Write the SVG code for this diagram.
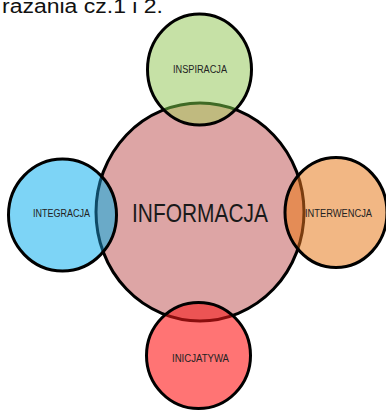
<svg xmlns="http://www.w3.org/2000/svg" width="386" height="412" viewBox="0 0 386 412">
<style>
.ol{fill:none;stroke:#000;stroke-width:3}
.lbl{font-family:"Liberation Sans",Arial,sans-serif;font-size:10px;fill:#222;text-anchor:middle}
.big{font-family:"Liberation Sans",Arial,sans-serif;font-size:26px;fill:#1a1a1a;text-anchor:middle}
</style>
<defs>
<clipPath id="cBig"><ellipse cx="200" cy="212" rx="104" ry="109"/></clipPath>
<clipPath id="cG"><ellipse cx="199.5" cy="69.5" rx="52" ry="55.5"/></clipPath>
<clipPath id="cB"><ellipse cx="62.5" cy="215" rx="54" ry="56"/></clipPath>
<clipPath id="cO"><ellipse cx="336" cy="212.5" rx="51" ry="55"/></clipPath>
<clipPath id="cR"><ellipse cx="198.5" cy="355.5" rx="52" ry="53"/></clipPath>
</defs>
<rect width="386" height="412" fill="#fff"/>
<text x="2" y="13" font-family="'Liberation Sans',Arial,sans-serif" font-size="20" fill="#111" textLength="161" lengthAdjust="spacingAndGlyphs">razania cz.1 i 2.</text>
<g id="connectors"/>
<g id="informacja">
<ellipse cx="200" cy="212" rx="104" ry="109" fill="#dda5a5" stroke="#000" stroke-width="3"/>
<text class="big" x="200" y="222" textLength="136" lengthAdjust="spacingAndGlyphs">INFORMACJA</text>
</g>
<g id="inspiracja">
<ellipse cx="199.5" cy="69.5" rx="52" ry="55.5" fill="#c6e1a6"/>
<ellipse cx="200" cy="212" rx="104" ry="109" fill="#c0ba7f" clip-path="url(#cG)"/>
<ellipse cx="200" cy="212" rx="104" ry="109" fill="none" stroke="#3f6a25" stroke-width="3" clip-path="url(#cG)"/>
<ellipse class="ol" cx="199.5" cy="69.5" rx="52" ry="55.5"/>
<text class="lbl" x="200" y="73" textLength="54" lengthAdjust="spacingAndGlyphs">INSPIRACJA</text>
</g>
<g id="integracja">
<ellipse cx="62.5" cy="215" rx="54" ry="56" fill="#7dd4f6"/>
<ellipse cx="200" cy="212" rx="104" ry="109" fill="#6aaac8" clip-path="url(#cB)"/>
<ellipse cx="200" cy="212" rx="104" ry="109" fill="none" stroke="#0e4a66" stroke-width="3" clip-path="url(#cB)"/>
<ellipse class="ol" cx="62.5" cy="215" rx="54" ry="56"/>
<text class="lbl" x="61.5" y="217" textLength="57" lengthAdjust="spacingAndGlyphs">INTEGRACJA</text>
</g>
<g id="interwencja">
<ellipse cx="336" cy="212.5" rx="51" ry="55" fill="#f2b784"/>
<ellipse cx="200" cy="212" rx="104" ry="109" fill="#e48c56" clip-path="url(#cO)"/>
<ellipse cx="200" cy="212" rx="104" ry="109" fill="none" stroke="#7a3d10" stroke-width="3" clip-path="url(#cO)"/>
<ellipse class="ol" cx="336" cy="212.5" rx="51" ry="55"/>
<text class="lbl" x="338.5" y="217" textLength="67" lengthAdjust="spacingAndGlyphs">INTERWENCJA</text>
</g>
<g id="inicjatywa">
<ellipse cx="198.5" cy="355.5" rx="52" ry="53" fill="#ff7474"/>
<ellipse cx="200" cy="212" rx="104" ry="109" fill="#ec5454" clip-path="url(#cR)"/>
<ellipse cx="200" cy="212" rx="104" ry="109" fill="none" stroke="#8a0e0e" stroke-width="3" clip-path="url(#cR)"/>
<ellipse class="ol" cx="198.5" cy="355.5" rx="52" ry="53"/>
<text class="lbl" x="200.5" y="362" textLength="57" lengthAdjust="spacingAndGlyphs">INICJATYWA</text>
</g>
</svg>
